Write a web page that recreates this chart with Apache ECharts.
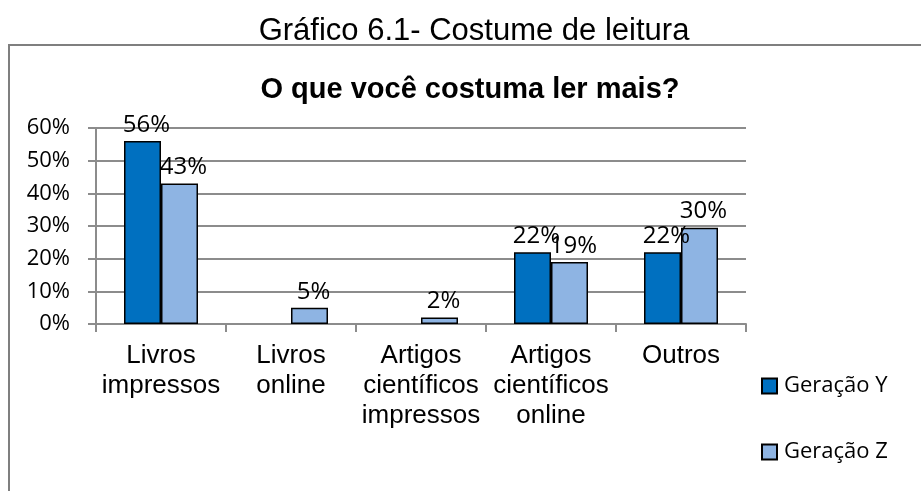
<!DOCTYPE html>
<html>
<head>
<meta charset="utf-8">
<script src="https://cdn.jsdelivr.net/npm/echarts@6/dist/echarts.min.js"></script>
<style>
  html, body { margin: 0; padding: 0; background: #fff; }
  #chart { width: 921px; height: 491px; }
</style>
</head>
<body>
<div id="chart"></div>
<script>
// dados
var categorias = ['Livros\nimpressos', 'Livros\nonline', 'Artigos\ncientíficos\nimpressos', 'Artigos\ncientíficos\nonline', 'Outros'];
var geracaoY = [56, null, null, 22, 22];
var geracaoZ = [43, 5, 2, 19, 29.5];
var ticksY = [0, 10, 20, 30, 40, 50, 60];

var fonte = "'Liberation Sans', Arial, sans-serif";
var fonteNum = "'Open Sans', 'Liberation Sans', sans-serif";

var myChart = echarts.init(document.getElementById('chart'));

function rotulo() {
	return {
		show: true,
		position: 'top',
		distance: 4,
		offset: [4, 0],
		color: '#000',
		fontSize: 24,
		fontFamily: fonteNum,
		formatter: function(p) { return Math.round(p.value) + '%'; }
	};
}

var option = {
	backgroundColor: '#fff',
	animation: false,
	title: [{
		text: 'Gráfico 6.1- Costume de leitura',
		left: 469,
		textAlign: 'center',
		top: 11,
		textStyle: { fontFamily: fonte, fontSize: 31, fontWeight: 'normal', color: '#000' }
	}, {
		text: 'O que você costuma ler mais?',
		left: 465,
		textAlign: 'center',
		top: 70,
		textStyle: { fontFamily: fonte, fontSize: 29, fontWeight: 'bold', color: '#000' }
	}],
	graphic: [{
		type: 'rect',
		shape: { x: 9, y: 45, width: 930, height: 470 },
		style: { fill: 'none', stroke: '#7f7f7f', lineWidth: 2 },
		z: -1
	}],
	legend: {
		orient: 'vertical',
		left: 761,
		top: 375,
		padding: 0,
		itemGap: 44,
		itemWidth: 15,
		itemHeight: 15,
		icon: 'rect',
		textStyle: { fontFamily: fonteNum, fontSize: 22, lineHeight: 22, color: '#000', padding: [0, 0, 0, 2] },
		data: ['Geração Y', 'Geração Z']
	},
	grid: {
		left: 96,
		top: 128,
		width: 650,
		height: 196,
		containLabel: false
	},
	xAxis: {
		type: 'category',
		data: categorias,
		axisLine: { lineStyle: { color: '#8c8c8c', width: 2 } },
		axisTick: { show: true, alignWithLabel: false, length: 8, lineStyle: { color: '#8c8c8c', width: 2 } },
		axisLabel: {
			interval: 0,
			color: '#000',
			fontFamily: fonte,
			fontSize: 26,
			lineHeight: 30,
			margin: 17
		}
	},
	yAxis: {
		type: 'value',
		min: 0,
		max: 60,
		interval: 10,
		axisLine: { show: true, lineStyle: { color: '#8c8c8c', width: 2 } },
		axisTick: { show: true, length: 8, lineStyle: { color: '#8c8c8c', width: 2 } },
		splitLine: { lineStyle: { color: '#8c8c8c', width: 2 } },
		axisLabel: {
			color: '#000',
			fontFamily: fonteNum,
			fontSize: 22,
			margin: 26,
			formatter: function(v) { return ticksY.indexOf(v) >= 0 ? v + '%' : ''; }
		}
	},
	series: [{
		name: 'Geração Y',
		type: 'bar',
		data: geracaoY,
		barWidth: 37,
		barGap: '0%',
		itemStyle: { color: '#0070C0', borderColor: '#000', borderWidth: 1.5 },
		label: rotulo()
	}, {
		name: 'Geração Z',
		type: 'bar',
		data: geracaoZ,
		barWidth: 37,
		barGap: '0%',
		itemStyle: { color: '#8EB4E3', borderColor: '#000', borderWidth: 1.5 },
		label: rotulo()
	}]
};

myChart.setOption(option);
</script>
</body>
</html>
